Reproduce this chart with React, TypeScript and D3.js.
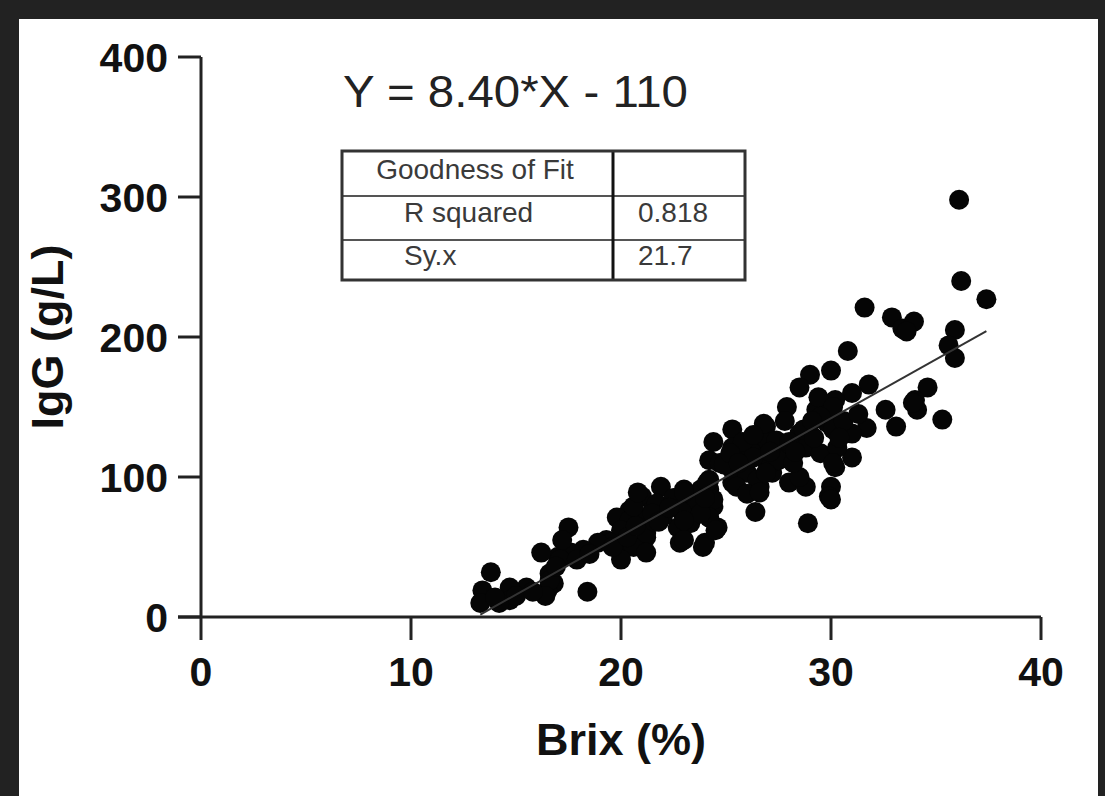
import React from "react";
import * as d3 from "d3";

const brix: number[] = [
  36.1, 36.2, 37.4, 31.6, 32.9, 33.4, 33.95, 33.6, 35.9, 35.6, 35.9, 30.8, 30.0, 31.8, 31.0, 34.6,
  34.0, 34.1, 32.6, 33.1, 35.3, 31.7, 31.0, 31.0, 30.2, 29.8, 27.9, 29.0, 28.5, 29.6, 30.2, 29.3,
  29.8, 28.5, 26.9, 26.5, 27.2, 25.3, 24.4, 25.3, 25.8, 26.9, 27.7, 28.8, 29.5, 30.3, 24.2, 24.7,
  25.3, 26.6, 28.0, 28.8, 30.1, 30.0, 29.9, 26.4, 28.9, 24.2, 24.4, 24.6, 24.0, 33.9, 29.4, 30.1,
  29.5, 28.7, 30.1, 30.0, 28.5, 26.8, 27.7, 25.3, 26.0, 25.5, 27.2, 24.2, 23.8, 24.4, 24.2, 24.5,
  23.0, 23.1, 23.4, 21.9, 21.0, 20.4, 19.8, 21.5, 22.2, 22.7, 22.8, 23.9, 21.2, 19.3, 20.0, 20.6,
  20.0, 21.2, 24.9, 24.1, 23.6, 23.3, 21.7, 21.0, 20.4, 20.0, 19.5, 21.2, 18.9, 18.2, 17.6, 17.5,
  17.0, 16.2, 16.6, 16.8, 16.5, 15.5, 14.7, 13.8, 13.4, 18.4, 13.3, 14.7, 14.2, 16.6, 16.4, 17.1,
  17.9, 19.6, 20.6, 20.8, 20.3, 17.2, 22.5, 22.0, 26.2, 27.0, 27.5, 28.2, 26.5, 25.8, 29.2, 15.0,
  15.8, 30.6, 31.3, 22.9, 21.6, 26.0, 27.8, 26.8, 27.4, 25.2, 26.3, 26.9, 26.6, 23.0, 23.8, 21.5,
  23.0, 23.0, 21.8, 22.3, 24.0, 25.6, 26.3, 28.0, 28.3, 27.1, 29.1, 30.4, 20.7, 18.5, 16.9, 14.0,
];

const igg: number[] = [
  298, 240, 227, 221, 214, 206, 211, 204, 205, 194, 185, 190, 176, 166, 160, 164,
  155, 148, 148, 136, 141, 135, 131, 114, 107, 146, 150, 173, 164, 153, 155, 148,
  139, 131, 136, 126, 125, 134, 125, 121, 114, 114, 117, 121, 117, 121, 112, 110,
  96, 93, 96, 93, 110, 93, 86, 75, 67, 91, 79, 64, 53, 153, 157, 150,
  143, 134, 134, 84, 100, 126, 124, 105, 103, 93, 103, 98, 91, 84, 71, 62,
  91, 81, 71, 93, 86, 76, 71, 76, 79, 64, 53, 50, 57, 55, 48, 50,
  41, 46, 109, 96, 81, 67, 81, 71, 69, 62, 53, 60, 53, 48, 46, 64,
  43, 46, 31, 24, 19, 21, 21, 32, 19, 18, 10, 12, 10, 26, 15, 41,
  41, 50, 79, 89, 57, 55, 85, 72, 118, 108, 112, 110, 98, 125, 128, 15,
  18, 140, 145, 75, 68, 88, 140, 138, 126, 117, 114, 103, 89, 89, 74, 74,
  69, 55, 68, 78, 85, 110, 130, 125, 118, 118, 140, 128, 65, 45, 36, 14,
];

const xTicks: number[] = [0, 10, 20, 30, 40];
const yTicks: number[] = [0, 100, 200, 300, 400];
const slope = 8.4;
const intercept = -110;
const equationText = "Y = 8.40*X - 110";
const fitRows: string[][] = [
  ["Goodness of Fit", ""],
  ["R squared", "0.818"],
  ["Sy.x", "21.7"],
];
const xTitle = "Brix (%)";
const yTitle = "IgG (g/L)";

const FONT = "'Liberation Sans', Arial, Helvetica, sans-serif";

export default function App() {
  const W = 1105;
  const H = 796;
  const x = d3.scaleLinear().domain([0, 40]).range([201, 1041]);
  const y = d3.scaleLinear().domain([0, 400]).range([617, 57]);
  const pts = brix.map((b, i) => ({ b, g: igg[i] }));
  const [xMin, xMax] = d3.extent(brix) as [number, number];
  const line = d3
    .line<number>()
    .x((d) => x(d))
    .y((d) => y(slope * d + intercept));
  const axisColor = "#222";

  // table geometry
  const tL = 342, tR = 745, tT = 151, tB = 280, tMid = 613;
  const rowY = [tT, 196, 240, tB];
  const baselines = [179, 222, 265];

  return (
    <svg
      width={W}
      height={H}
      style={{ position: "fixed", left: 0, top: 0, display: "block" }}
      fontFamily={FONT}
    >
      <rect x={0} y={0} width={W} height={H} fill="#222" />
      <rect x={19} y={19} width={1098 - 19} height={H - 19} fill="#fff" />

      {/* points */}
      <g>
        {pts.map((p, i) => (
          <circle key={i} cx={x(p.b)} cy={y(p.g)} r={10} fill="#050505" />
        ))}
      </g>

      {/* regression line */}
      <path d={line([xMin, xMax]) || ""} stroke="#333" strokeWidth={2} fill="none" />

      {/* y axis */}
      <line x1={x(0)} x2={x(0)} y1={y(400)} y2={y(0)} stroke={axisColor} strokeWidth={3} />
      {yTicks.map((t) => (
        <g key={t}>
          <line x1={x(0) - 23} x2={x(0)} y1={y(t)} y2={y(t)} stroke={axisColor} strokeWidth={3} />
          <text
            x={168}
            y={y(t)}
            dy="0.36em"
            textAnchor="end"
            fontSize={41}
            fontWeight="bold"
            fill="#111"
          >
            {t}
          </text>
        </g>
      ))}

      {/* x axis */}
      <line x1={x(0) - 23} x2={x(40)} y1={y(0)} y2={y(0)} stroke={axisColor} strokeWidth={3} />
      {xTicks.map((t) => (
        <g key={t}>
          <line x1={x(t)} x2={x(t)} y1={y(0)} y2={y(0) + 23} stroke={axisColor} strokeWidth={3} />
          <text x={x(t)} y={686} textAnchor="middle" fontSize={41} fontWeight="bold" fill="#111">
            {t}
          </text>
        </g>
      ))}

      {/* axis titles */}
      <text x={621} y={755} textAnchor="middle" fontSize={45} fontWeight="bold" fill="#111">
        {xTitle}
      </text>
      <text
        transform="translate(63,337) rotate(-90)"
        textAnchor="middle"
        fontSize={45}
        fontWeight="bold"
        fill="#111"
      >
        {yTitle}
      </text>

      {/* equation */}
      <text x={343} y={107} fontSize={45} fill="#222" textLength={345} lengthAdjust="spacingAndGlyphs">
        {equationText}
      </text>

      {/* table */}
      <g>
        <rect x={tL} y={tT} width={tR - tL} height={tB - tT} fill="#fff" stroke="none" />
        {rowY.slice(1, 3).map((ry, i) => (
          <line key={i} x1={tL} x2={tR} y1={ry} y2={ry} stroke="#555" strokeWidth={2} />
        ))}
        <line x1={tMid} x2={tMid} y1={tT} y2={tB} stroke="#111" strokeWidth={3} />
        <rect x={tL} y={tT} width={tR - tL} height={tB - tT} fill="none" stroke="#333" strokeWidth={3} />
        {fitRows.map((row, i) => (
          <g key={i}>
            <text
              x={i === 0 ? 475 : 404}
              y={baselines[i]}
              textAnchor={i === 0 ? "middle" : "start"}
              fontSize={28}
              fill="#3a3a3a"
            >
              {row[0]}
            </text>
            <text x={638} y={baselines[i]} fontSize={28} fill="#3a3a3a">
              {row[1]}
            </text>
          </g>
        ))}
      </g>
    </svg>
  );
}
